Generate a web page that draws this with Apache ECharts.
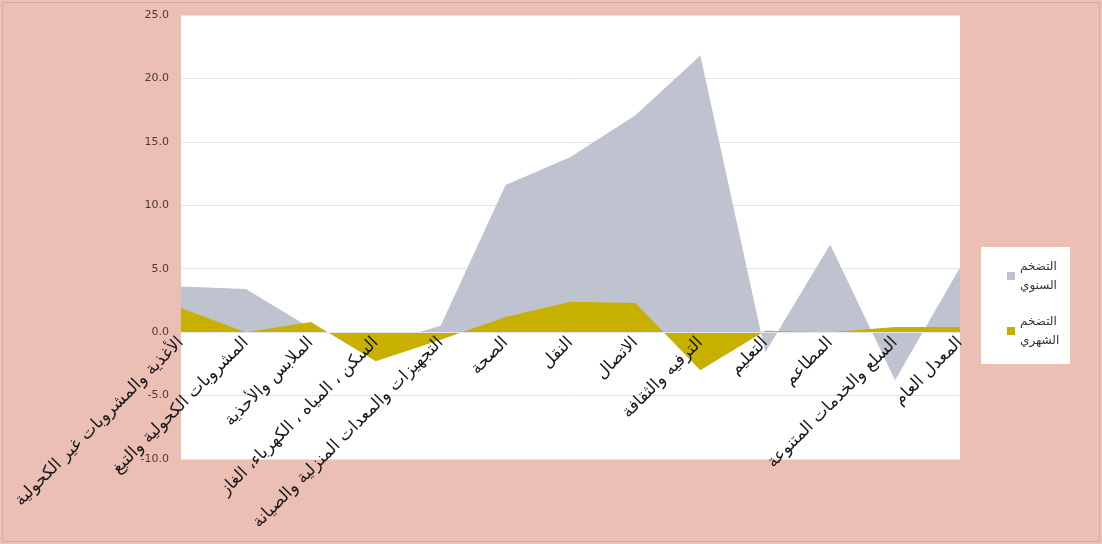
<!DOCTYPE html>
<html>
<head>
<meta charset="utf-8">
<script src="https://cdn.jsdelivr.net/npm/echarts@6/dist/echarts.min.js"></script>
<style>
html,body{margin:0;padding:0;background:#ecbfb5;}
#wrap{position:absolute;left:2px;top:2px;width:1096px;height:538px;border:1px solid #d4aaa1;}
#chart{position:absolute;left:-3px;top:-3px;width:1102px;height:544px;}
</style>
</head>
<body>
<div id="wrap"><div id="chart"></div></div>
<script>
const categories = [
  'الأغذية والمشروبات غير الكحولية',
  'المشروبات الكحولية والتبغ',
  'الملابس والأحذية',
  'السكن ، المياه ، الكهرباء، الغاز',
  'التجهيزات والمعدات المنزلية والصيانة',
  'الصحة',
  'النقل',
  'الاتصال',
  'الترفيه والثقافة',
  'التعليم',
  'المطاعم',
  'السلع والخدمات المتنوعة',
  'المعدل العام'
];
const seriesNames = ['التضخم السنوي', 'التضخم الشهري'];
const annualInflation  = [3.6, 3.4, 0.3, -1.0, 0.5, 11.6, 13.8, 17.1, 21.8, -1.6, 6.9, -3.8, 5.1];
const monthlyInflation = [1.9, 0.0, 0.8, -2.3, -0.6, 1.2, 2.4, 2.3, -3.0, 0.1, 0.0, 0.4, 0.4];
const yTicks = {min: -10, max: 25, interval: 5};

const gridTop = 15, gridBottom = 85, chartH = 544;
const plotH = chartH - gridTop - gridBottom;
// place the category axis at the y = 0 line
const zeroOffset = -plotH * (0 - yTicks.min) / (yTicks.max - yTicks.min);

const chart = echarts.init(document.getElementById('chart'));
const font = 'DejaVu Sans, Noto Sans, sans-serif';
chart.setOption({
  backgroundColor: 'transparent',
  animation: false,
  textStyle: {fontFamily: font},
  grid: {left: 181, right: 142, top: gridTop, bottom: gridBottom, show: true, backgroundColor: '#ffffff', borderWidth: 0,
         containLabel: false, outerBoundsMode: 'none'},
  legend: {
    orient: 'vertical',
    left: 981,
    top: 247,
    backgroundColor: '#ffffff',
    padding: [10, 10, 14, 26],
    itemGap: 17,
    align: 'left',
    icon: 'rect',
    itemWidth: 8,
    itemHeight: 8,
    data: seriesNames,
    formatter: function (n) { return n.replace(' ', '\n'); },
    textStyle: {fontFamily: font, fontSize: 12, color: '#333', lineHeight: 19, align: 'right', width: 40}
  },
  xAxis: {
    type: 'category',
    data: categories,
    boundaryGap: false,
    offset: zeroOffset,
    z: 10,
    axisLine: {onZero: false, lineStyle: {color: '#e6e6e6'}},
    axisTick: {show: false},
    axisLabel: {interval: 0, rotate: 45, margin: 8, fontSize: 17, color: '#1a1a1a', fontFamily: font}
  },
  yAxis: {
    type: 'value',
    min: yTicks.min, max: yTicks.max, interval: yTicks.interval,
    axisLine: {show: false},
    axisTick: {show: false},
    splitLine: {lineStyle: {color: '#e3e3e3'}},
    axisLabel: {formatter: v => v.toFixed(1), fontSize: 11, color: '#4a3a38', margin: 12, fontFamily: font}
  },
  series: [
    {
      name: seriesNames[0], type: 'line', data: annualInflation,
      showSymbol: false, symbol: 'none',
      itemStyle: {color: '#bfc3d0'},
      lineStyle: {width: 0, color: '#bfc3d0'},
      areaStyle: {color: '#bfc3d0', opacity: 1}
    },
    {
      name: seriesNames[1], type: 'line', data: monthlyInflation,
      showSymbol: false, symbol: 'none',
      itemStyle: {color: '#c8b000'},
      lineStyle: {width: 0, color: '#c8b000'},
      areaStyle: {color: '#c8b000', opacity: 1}
    }
  ]
});
</script>
</body>
</html>
